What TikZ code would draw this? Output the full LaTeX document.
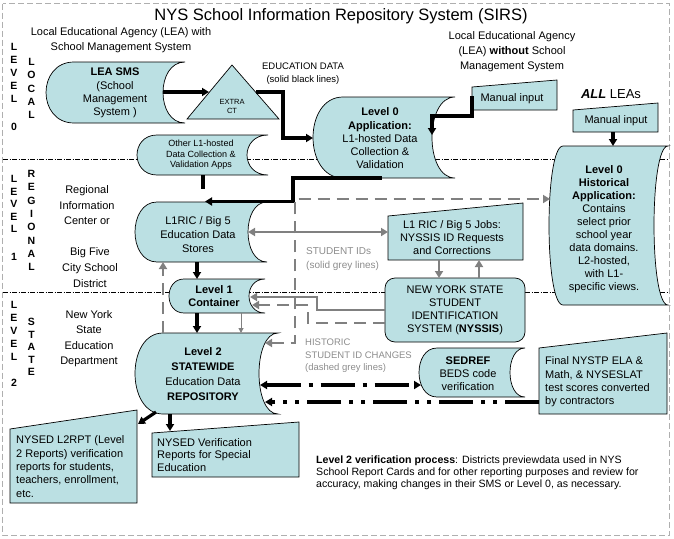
\documentclass[tikz,border=0pt]{standalone}
\usepackage{fontspec}
\setmainfont{Liberation Sans}
\usetikzlibrary{arrows.meta}
\definecolor{boxfill}{RGB}{187,224,227}
\definecolor{gline}{RGB}{128,128,128}
\definecolor{gtext}{RGB}{140,140,140}
\definecolor{bordergrey}{RGB}{175,175,175}
\newcommand{\sdpath}[6]{%
  \filldraw[shp] ({#1+#5},#2) -- (#3,#2)
    .. controls ({#3-1.333*#6},#2) and ({#3-1.333*#6},#4) .. (#3,#4)
    -- ({#1+#5},#4)
    .. controls ({#1-0.333*#5},#4) and ({#1-0.333*#5},#2) .. cycle;}
\newcommand{\mipath}[5]{%
  \filldraw[shp] (#1,#5) -- (#1,#2) -- (#3,#4) -- (#3,#5) -- cycle;}
\begin{document}
\begin{tikzpicture}[x=1pt,y=-1pt,
  shp/.style={fill=boxfill,draw=black,line width=0.7pt},
  txt/.style={align=center,inner sep=0pt,font=\fontsize{11}{13}\selectfont},
  ltxt/.style={align=left,inner sep=0pt,font=\fontsize{11}{13.3}\selectfont,anchor=west},
  tip/.tip={Triangle[length=7pt,width=8pt]},
  blk/.style={line width=3.2pt,-tip},
  blkline/.style={line width=3.2pt},
  gsolid/.style={draw=gline,line width=2.8pt,-tip},
  gdash/.style={gsolid,dash pattern=on 12pt off 7pt},
  dd/.style={line width=3.2pt,dash pattern=on 34pt off 8pt on 4pt off 8pt},
  ddd/.style={line width=3.2pt,dash pattern=on 34pt off 8pt on 4pt off 8pt on 4pt off 8pt},
  sep/.style={line width=0.6pt,dash pattern=on 5pt off 1.5pt on 1pt off 1.5pt},
  lvl/.style={align=center,inner sep=0pt,font=\bfseries\fontsize{10.5}{13}\selectfont},
]
\useasboundingbox (0,0) rectangle (674,538);
% frame and level separators
\draw[draw=bordergrey,line width=0.8pt,dash pattern=on 6pt off 3pt] (2.5,3.5) rectangle (669.5,535);
\draw[sep] (3,159) -- (669,159);
\draw[sep] (3,292) -- (669,292);

% title and labels
\node[inner sep=0pt,font=\fontsize{16.5}{20}\selectfont] (title) at (341,16) {NYS School Information Repository System (SIRS)};
\node[txt,font=\fontsize{11}{15}\selectfont] (leawith) at (121,40.5) {Local Educational Agency (LEA) with\\School Management System};
\node[txt,font=\fontsize{11}{15}\selectfont] (leawithout) at (512,52) {Local Educational Agency\\(LEA) \textbf{without} School\\Management System};
\node[txt,font=\fontsize{13}{15}\selectfont] (allleas) at (611,94) {\textbf{\textit{ALL}} LEAs};
\node[txt,font=\fontsize{9.5}{13}\selectfont] (edudata) at (303,73.5) {EDUCATION DATA\\(solid black lines)};
\node[txt,font=\fontsize{11}{15.5}\selectfont] (ric1) at (87,205.5) {Regional\\Information\\Center or};
\node[txt,font=\fontsize{11}{16}\selectfont] (ric2) at (90,268) {Big Five\\City School\\District};
\node[txt,font=\fontsize{11}{15.5}\selectfont] (nysed) at (89,338.5) {New York\\State\\Education\\Department};

\node[lvl] (lv0) at (14,87) {L\\E\\V\\E\\L\\[15pt]0};
\node[lvl,font=\bfseries\fontsize{10.5}{13.3}\selectfont] (loc) at (31.5,88.5) {L\\O\\C\\A\\L};
\node[lvl,font=\bfseries\fontsize{10.5}{12.5}\selectfont] (lv1) at (14,218) {L\\E\\V\\E\\L\\[15.5pt]1};
\node[lvl,font=\bfseries\fontsize{10.5}{13.3}\selectfont] (reg) at (31.5,220.5) {R\\E\\G\\I\\O\\N\\A\\L};
\node[lvl] (lv2l) at (14,344) {L\\E\\V\\E\\L\\[13pt]2};
\node[lvl,font=\bfseries\fontsize{10.5}{12.5}\selectfont] (sta) at (31.5,347) {S\\T\\A\\T\\E};

% shapes
\sdpath{46}{62}{185}{123}{28}{22}
\node[txt,font=\fontsize{11}{13.3}\selectfont] (sms) at (115,93) {\textbf{LEA SMS}\\(School\\Management\\System )};
\filldraw[shp] (232,65) -- (279,119) -- (187,119) -- cycle;
\node[txt,font=\fontsize{7.5}{9}\selectfont] (extract) at (232,106.5) {EXTRA\\CT};

\sdpath{137}{135}{268}{175}{20}{21}
\node[txt,font=\fontsize{9}{10.5}\selectfont] (otherapps) at (201,155) {Other L1-hosted\\Data Collection \&\\Validation Apps};

\sdpath{313}{97}{455}{178}{30}{23}
\node[txt,font=\fontsize{11}{13.25}\selectfont] (lv0app) at (380,138.5) {\textbf{Level 0}\\\textbf{Application:}\\L1-hosted Data\\Collection \&\\Validation};

\mipath{472}{87}{557}{80}{110}
\node[txt] (man1) at (512,99) {Manual input};
\mipath{573}{110}{658}{103}{132}
\node[txt] (man2) at (616,121) {Manual input};

\sdpath{549}{146}{668}{305}{14}{14}
\node[txt] (hist) at (604,229.5) {\textbf{Level 0}\\\textbf{Historical}\\\textbf{Application:}\\Contains\\select prior\\school year\\data domains.\\L2-hosted,\\with L1-\\specific views.};

\sdpath{135}{202}{267}{262}{22}{19}
\node[txt,font=\fontsize{11}{14}\selectfont] (ric) at (198,235) {L1RIC / Big 5\\Education Data\\Stores};

\mipath{388}{216}{523}{203}{260}
\node[txt] (jobs) at (452,237.5) {L1 RIC / Big 5 Jobs:\\NYSSIS ID Requests\\and Corrections};

\node[shp,rounded corners=10pt,minimum width=140pt,minimum height=64pt,inner sep=0pt,align=center,font=\fontsize{11}{13}\selectfont] (nyssis) at (455,310) {NEW YORK STATE\\STUDENT\\IDENTIFICATION\\SYSTEM (\textbf{NYSSIS})};

\sdpath{169}{279}{265}{313}{15}{16}
\node[txt,font=\bfseries\fontsize{11}{13}\selectfont] (cont) at (214,296.5) {Level 1\\Container};

\sdpath{135}{333}{278}{414}{28}{19}
\node[txt,font=\fontsize{11}{15}\selectfont] (lv2) at (203,374.5) {\textbf{Level 2}\\\textbf{STATEWIDE}\\Education Data\\\textbf{REPOSITORY}};

\sdpath{419}{348}{525}{397}{18}{15}
\node[txt] (sedref) at (468,374) {\textbf{SEDREF}\\BEDS code\\verification};

\mipath{539}{348}{667}{333}{414}
\node[ltxt] (final) at (545,382) {Final NYSTP ELA \&\\Math, \& NYSESLAT\\test scores converted\\by contractors};

\mipath{10}{429}{137}{410}{503}
\node[ltxt] (l2rpt) at (16,466.5) {NYSED L2RPT (Level\\2 Reports) verification\\reports for students,\\teachers, enrollment,\\etc.};

\mipath{152}{433}{299}{422}{477}
\node[ltxt,font=\fontsize{11}{12.8}\selectfont] (verif) at (157,455) {NYSED Verification\\Reports for Special\\Education};

\node[ltxt,text=gtext,font=\fontsize{10}{14}\selectfont] (sids) at (306,259) {STUDENT IDs\\(solid grey lines)};
\node[ltxt,text=gtext,font=\fontsize{9.5}{12.5}\selectfont] (hids) at (305,356) {HISTORIC\\STUDENT ID CHANGES\\(dashed grey lines)};

\node[ltxt,font=\fontsize{10.6}{12.2}\selectfont] (vproc) at (316,473) {\textbf{Level 2 verification process}: Districts previewdata used in NYS\\School Report Cards and for other reporting purposes and review for\\accuracy, making changes in their SMS or Level 0, as necessary.};

% connector end points
\coordinate (smsR) at (163,92);   \coordinate (triL) at (209,92);
\coordinate (triR) at (256,92);   \coordinate (appL) at (313,138);
\coordinate (man1L) at (472,96);  \coordinate (appR) at (432,135);
\coordinate (appB) at (382,178);  \coordinate (ricT) at (205,201.5);
\coordinate (othB) at (203,175);
\coordinate (man2B) at (613,132); \coordinate (histT) at (613,146);
\coordinate (ricB) at (197,262);  \coordinate (contT) at (197,279);
\coordinate (contB) at (197,313); \coordinate (lv2T) at (197,333);
\coordinate (lv2BL) at (156,412); \coordinate (l2rptT) at (138,424);
\coordinate (lv2B) at (170,414);  \coordinate (verifT) at (170,431);
\coordinate (ricR) at (248,232);  \coordinate (jobsL) at (388,232);
\coordinate (jobsB) at (439,260); \coordinate (nyT1) at (439,278);
\coordinate (nyT2) at (479,278);  \coordinate (jobsB2) at (479,260);
\coordinate (nyL1) at (385,310);  \coordinate (contR1) at (250,297);
\coordinate (nyL2) at (385,323);  \coordinate (contR2) at (252,305);
\coordinate (lv2R1) at (265,343); \coordinate (histL) at (550,199);
\coordinate (lv2T2) at (163,333); \coordinate (ricB2) at (163,262);
\coordinate (contB2) at (241,313); \coordinate (lv2T3) at (241,333);
\coordinate (lv2R2) at (260,385); \coordinate (sedL) at (421,385);
\coordinate (finalL) at (539,402); \coordinate (lv2R3) at (265,402);

% black data flows
\draw[blk] (smsR) -- (triL);
\draw[blk] (triR) -- ++(27,0) |- (appL);
\draw[blk] (man1L) -- (472,116) -| (appR);
\draw[blk] (appB) -- (293,178) |- (ricT);
\draw[blkline] (othB) -- ++(0,14);
\draw[blk] (man2B) -- (histT);
\draw[blk] (ricB) -- (contT);
\draw[blk] (contB) -- (lv2T);
\draw[blk] (lv2BL) -- (l2rptT);
\draw[blk] (lv2B) -- (verifT);

% grey student id flows
\draw[gsolid,tip-tip] (ricR) -- (jobsL);
\draw[gsolid] (jobsB) -- (nyT1);
\draw[gsolid] (nyT2) -- (jobsB2);
\draw[gsolid] (nyL1) -- (317,310) |- (contR1);
\draw[draw=gline,line width=1pt,-{Triangle[length=5pt,width=5pt]}] (contB2) -- (lv2T3);
\draw[gdash] (nyL2) -- (308,323) |- (contR2);
\draw[gdash,tip-tip] (lv2R1) -- (295,343) -- (295,199) -- (histL);
\draw[gdash] (lv2T2) -- (ricB2);

% dash-dot flows
\draw[dd,tip-tip] (lv2R2) -- (sedL);
\draw[ddd,-tip] (finalL) -- (lv2R3);
\end{tikzpicture}
\end{document}
